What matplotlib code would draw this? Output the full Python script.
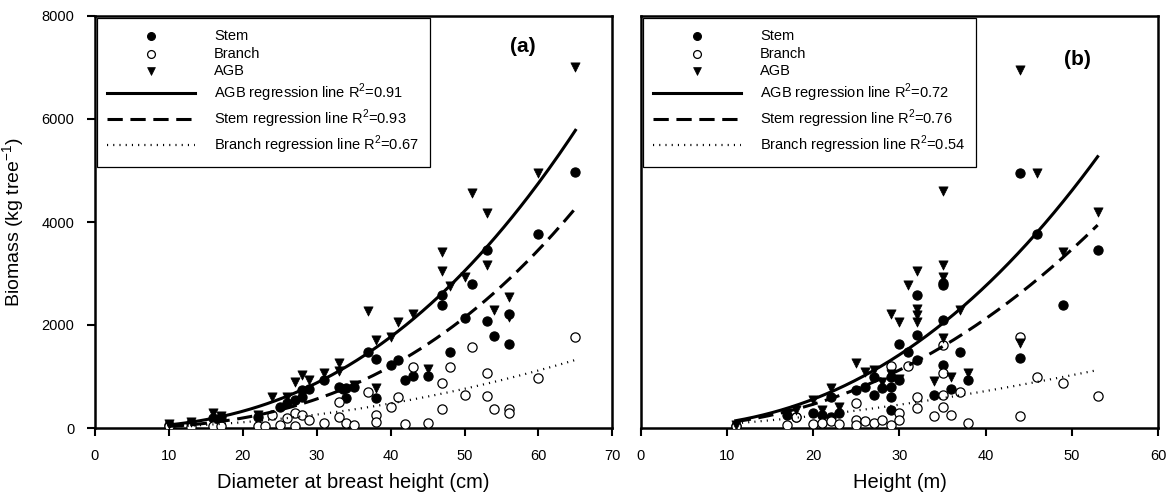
import matplotlib
matplotlib.use("Agg")
import matplotlib.pyplot as plt
import numpy as np

# ---- panel (a): diameter at breast height (cm) ----
a_stem_x = [10, 13, 16, 17, 22, 25, 26, 27, 28, 28, 29, 31, 33, 33.5, 34, 35, 34, 37, 38, 38,
            40, 41, 42, 43, 45, 47, 47, 48, 50, 51, 53, 53, 54, 56, 56, 60, 65]
a_stem_y = [60, 100, 190, 220, 220, 410, 480, 540, 610, 740, 750, 930, 800, 750, 780, 790, 580, 1480, 1340, 580,
            1220, 1330, 930, 1010, 1010, 2580, 2390, 1470, 2130, 2800, 3460, 2080, 1790, 2210, 1630, 3770, 4970]

a_branch_x = [10, 13, 16, 17, 22, 23, 24, 25, 26, 27, 27, 28, 29, 31, 33, 33, 34, 35, 37, 38,
              38, 40, 41, 42, 43, 45, 47, 47, 48, 50, 51, 53, 53, 54, 56, 56, 60, 65]
a_branch_y = [30, 20, 30, 30, 40, 40, 250, 60, 200, 300, 40, 250, 150, 100, 510, 220, 90, 50, 690, 250,
              120, 410, 610, 80, 1190, 100, 870, 360, 1190, 640, 1580, 1060, 620, 360, 360, 290, 980, 1760]

a_agb_x = [10, 13, 16, 17, 22, 24, 26, 27, 28, 29, 31, 33, 33, 35, 37, 38, 38, 40, 41, 43,
           45, 47, 47, 48, 50, 51, 53, 53, 54, 56, 56, 60, 65]
a_agb_y = [80, 120, 300, 240, 260, 610, 610, 900, 1030, 930, 1070, 1260, 1100, 840, 2270, 1700, 770, 1760, 2060, 2210,
           1140, 3420, 3040, 2760, 2940, 4570, 4180, 3170, 2290, 2550, 2150, 4960, 7000]

# ---- panel (b): height (m) ----
b_stem_x = [11, 17, 18, 20, 21, 22, 22, 23, 25, 26, 27, 27, 28, 29, 29, 29, 29, 30, 30, 31,
            32, 32, 32, 34, 35, 35, 35, 35, 36, 37, 38, 44, 44, 46, 49, 53]
b_stem_y = [40, 250, 220, 285, 250, 220, 610, 285, 740, 800, 640, 1000, 770, 800, 610, 1000, 340, 930, 1630, 1480,
            2580, 1810, 1330, 640, 2780, 2810, 2100, 1220, 750, 1480, 930, 4950, 1350, 3770, 2390, 3460]

b_branch_x = [11, 17, 18, 20, 21, 22, 23, 25, 25, 25, 26, 27, 28, 29, 29, 30, 30, 31, 32, 32,
              34, 35, 35, 35, 35, 36, 37, 38, 44, 44, 46, 49, 53]
b_branch_y = [30, 60, 220, 80, 90, 130, 80, 490, 150, 60, 130, 100, 150, 1200, 60, 290, 150, 1200, 610, 380,
              230, 1610, 1060, 640, 410, 250, 700, 100, 1770, 230, 1000, 870, 620]

b_agb_x = [11, 17, 18, 20, 21, 22, 23, 25, 26, 27, 28, 29, 29, 30, 30, 31, 32, 32, 32, 32,
           34, 35, 35, 35, 35, 36, 37, 38, 44, 44, 46, 49, 53]
b_agb_y = [60, 300, 350, 540, 350, 770, 400, 1260, 1090, 1130, 900, 2210, 1050, 2060, 950, 2780, 3040, 2320, 2190, 2060,
           920, 4600, 3170, 2940, 1740, 1000, 2290, 1070, 6950, 1650, 4950, 3420, 4200]

# power-law regressions  biomass = a * x^b
a_coef = {"AGB": (0.218, 2.44), "Stem": (0.0759, 2.62), "Branch": (0.206, 2.1)}
b_coef = {"AGB": (0.57, 2.3), "Stem": (0.634, 2.2), "Branch": (1.96, 1.6)}
a_r2 = {"AGB": "0.91", "Stem": "0.93", "Branch": "0.67"}
b_r2 = {"AGB": "0.72", "Stem": "0.76", "Branch": "0.54"}
a_range = (10, 65)
b_range = (11, 53)

plt.rcParams["font.family"] = ["Liberation Sans", "DejaVu Sans"]
plt.rcParams["mathtext.fontset"] = "custom"
plt.rcParams["mathtext.rm"] = "Liberation Sans"

fig = plt.figure(figsize=(11.68, 5), dpi=100)
ax1 = fig.add_axes([0.0813, 0.144, 0.443, 0.824])
ax2 = fig.add_axes([0.5488, 0.144, 0.4426, 0.824])


def draw(ax, sx, sy, bx, by, gx, gy, coef, r2, xr, xmax, xlabel, tag, tagpos):
    ax.scatter(sx, sy, s=44, marker="o", facecolor="black", edgecolor="black", lw=0.8,
               zorder=3, label="Stem")
    ax.scatter(bx, by, s=44, marker="o", facecolor="white", edgecolor="black", lw=0.9,
               zorder=3, label="Branch")
    ax.scatter(gx, gy, s=44, marker="v", facecolor="black", edgecolor="black", lw=0.5,
               zorder=3, label="AGB")
    xs = np.linspace(xr[0], xr[1], 200)
    styles = {"AGB": "-", "Stem": (0, (5, 2.5)), "Branch": (0, (0.5, 2.3))}
    widths = {"AGB": 2.2, "Stem": 2.2, "Branch": 1.6}
    for key in ["AGB", "Stem", "Branch"]:
        ca, cb = coef[key]
        ax.plot(xs, ca * xs ** cb, color="black", ls=styles[key], lw=widths[key], zorder=4,
                label="%s regression line R$^\\mathregular{2}$=%s" % (key, r2[key]))
    ax.set_xlim(0, xmax)
    ax.set_ylim(0, 8000)
    ax.set_xticks(np.arange(0, xmax + 1, 10))
    ax.set_yticks(np.arange(0, 8001, 2000))
    for sp in ax.spines.values():
        sp.set_linewidth(1.8)
    ax.tick_params(direction="out", length=6, width=1.5, pad=9, labelsize=10.5)
    ax.set_xlabel(xlabel, fontsize=14.5, labelpad=7)
    leg = ax.legend(loc="upper left", bbox_to_anchor=(0.003, 0.995), borderaxespad=0,
                    fontsize=10.5, handlelength=6.0, handletextpad=1.3, labelspacing=0.25,
                    borderpad=0.75, fancybox=False, framealpha=1, scatterpoints=1,
                    markerscale=0.85)
    leg.get_frame().set_edgecolor("black")
    leg.get_frame().set_linewidth(0.9)
    ax.text(tagpos[0], tagpos[1], tag, transform=ax.transAxes, fontsize=15,
            fontweight="bold", ha="center", va="center")


draw(ax1, a_stem_x, a_stem_y, a_branch_x, a_branch_y, a_agb_x, a_agb_y, a_coef, a_r2,
     a_range, 70, "Diameter at breast height (cm)", "(a)", (0.826, 0.925))
draw(ax2, b_stem_x, b_stem_y, b_branch_x, b_branch_y, b_agb_x, b_agb_y, b_coef, b_r2,
     b_range, 60, "Height (m)", "(b)", (0.845, 0.895))

ax1.set_ylabel("Biomass (kg tree$^\\mathregular{-1}$)", fontsize=14, labelpad=10)
ax2.tick_params(axis="y", left=False, labelleft=False)

fig.savefig("out.png", dpi=100)
